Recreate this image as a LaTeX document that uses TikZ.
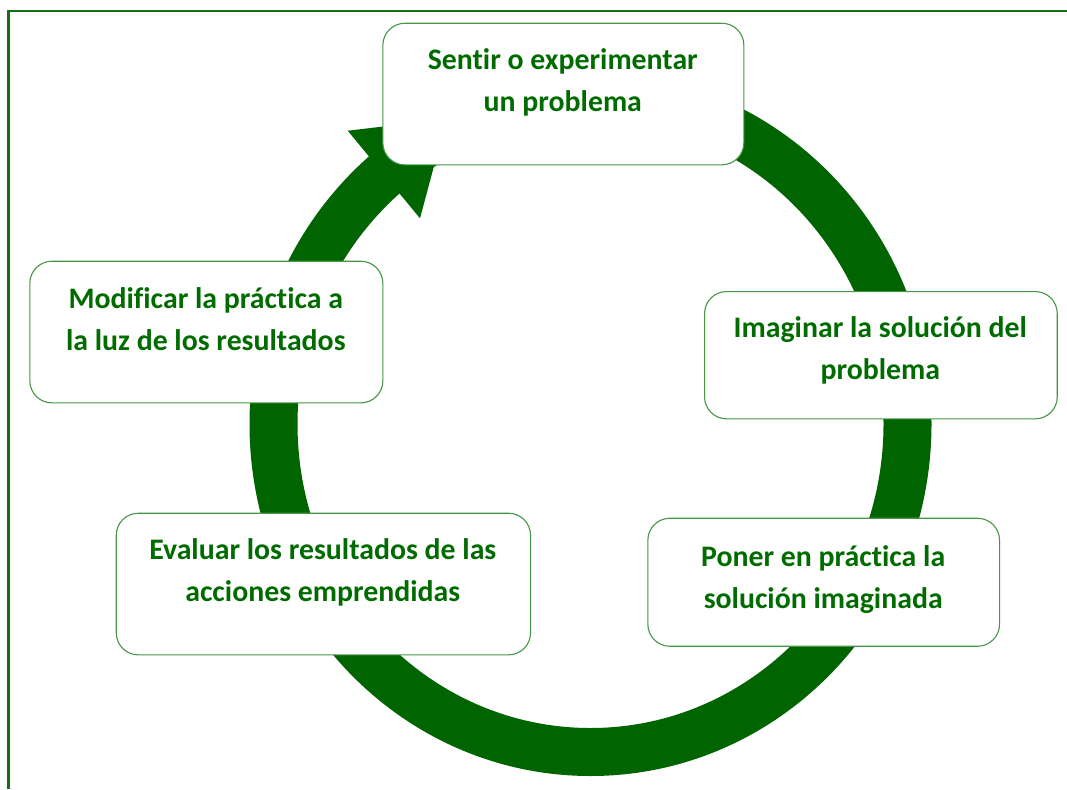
\documentclass[tikz,border=0pt]{standalone}
\usepackage{fontspec}
\setmainfont{Carlito}[RawFeature=-liga]
\definecolor{ringgreen}{RGB}{0,100,0}
\definecolor{txtgreen}{RGB}{0,108,0}
\definecolor{boxline}{RGB}{70,150,70}
\definecolor{framegreen}{RGB}{20,110,20}
\begin{document}
\begin{tikzpicture}[x=1pt,y=-1pt,
  stepbox/.style={draw=boxline, line width=1.1pt, fill=white, rounded corners=22pt, inner sep=0pt, anchor=north west},
  steptext/.style={text=txtgreen, font=\fontsize{29.8}{42}\selectfont\bfseries, align=center, inner sep=0pt, anchor=base}]
\useasboundingbox (0,0) rectangle (1067,789);
% frame
\coordinate (fa) at (8.7,789);
\coordinate (fb) at (8.7,11);
\coordinate (fc) at (1067,11);
\draw[framegreen, line width=2.8pt] (fa) -- (fb) -- (fc);
% cycle ring
\coordinate (ctr) at (590.5,424);
\draw[ringgreen, line width=48pt] (ctr) ellipse [x radius=317pt, y radius=328pt];
% arrow head
\coordinate (h1) at (347.7,130.7);
\coordinate (h2) at (446.6,119.1);
\coordinate (h3) at (420,218.3);
\fill[ringgreen] (h1) -- (h2) -- (h3) -- cycle;
% boxes
\node[stepbox, minimum width=361pt, minimum height=141.6pt] (b1) at (382.3,22.7) {};
\node[stepbox, minimum width=352.7pt, minimum height=127.3pt] (b2) at (704,291) {};
\node[stepbox, minimum width=351.7pt, minimum height=128pt] (b3) at (647.3,517.7) {};
\node[stepbox, minimum width=414.3pt, minimum height=141.6pt] (b4) at (115.7,512.7) {};
\node[stepbox, minimum width=353pt, minimum height=141.6pt] (b5) at (29.3,260.7) {};
% texts (base anchor = baseline of the last line)
\node[steptext] (t1) at (562.8,111) {Sentir o experimentar\\un problema};
\node[steptext] (t2) at (880.3,379.5) {Imaginar la solución del\\problema};
\node[steptext] (t3) at (823.2,608) {Poner en práctica la\\solución imaginada};
\node[steptext] (t4) at (322.8,601.7) {Evaluar los resultados de las\\acciones emprendidas};
\node[steptext] (t5) at (205.8,350) {Modificar la práctica a\\la luz de los resultados};
\end{tikzpicture}
\end{document}
